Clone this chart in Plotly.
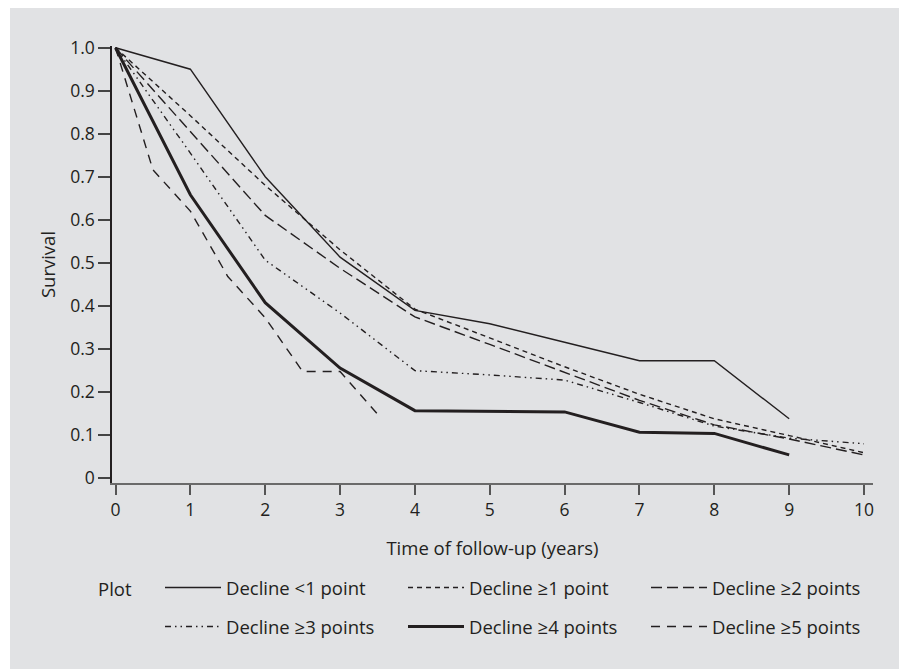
import plotly.graph_objects as go

# ---- data ----
years = [0, 1, 2, 3, 4, 5, 6, 7, 8, 9, 10]
years_half = [0, 0.5, 1, 1.5, 2, 2.5, 3, 3.5]

decline_lt1 = [1.0, 0.95, 0.70, 0.513, 0.389, 0.358, 0.315, 0.272, 0.272, 0.137]
decline_ge1 = [1.0, 0.842, 0.68, 0.53, 0.392, 0.325, 0.258, 0.194, 0.137, 0.098, 0.058]
decline_ge2 = [1.0, 0.805, 0.61, 0.487, 0.374, 0.31, 0.245, 0.18, 0.123, 0.09, 0.053]
decline_ge3 = [1.0, 0.755, 0.506, 0.383, 0.249, 0.239, 0.227, 0.175, 0.12, 0.092, 0.079]
decline_ge4 = [1.0, 0.658, 0.407, 0.255, 0.156, 0.155, 0.153, 0.106, 0.103, 0.053]
decline_ge5 = [1.0, 0.716, 0.62, 0.468, 0.372, 0.247, 0.247, 0.148]

y_ticks = [0, 0.1, 0.2, 0.3, 0.4, 0.5, 0.6, 0.7, 0.8, 0.9, 1.0]
y_tick_labels = ["0", "0.1", "0.2", "0.3", "0.4", "0.5", "0.6", "0.7", "0.8", "0.9", "1.0"]

INK = "#231f20"
BG = "#e1e2e4"
FONT = "Open Sans"
TICK_SIZE = 17.5
TEXT_SIZE = 18.5

series = [
    ("Decline <1 point", years, decline_lt1, 1.4, "solid", "legend"),
    ("Decline \u22651 point", years, decline_ge1, 1.4, "5px,4px", "legend"),
    ("Decline \u22652 points", years, decline_ge2, 1.4, "11px,5px", "legend"),
    ("Decline \u22653 points", years, decline_ge3, 1.4, "6px,4px,1.5px,4px,1.5px,4px", "legend2"),
    ("Decline \u22654 points", years, decline_ge4, 3.0, "solid", "legend2"),
    ("Decline \u22655 points", years_half, decline_ge5, 1.4, "9px,7px", "legend2"),
]

fig = go.Figure()
for name, xs, ys, w, dash, lg in series:
    fig.add_trace(go.Scatter(
        x=xs[:len(ys)], y=ys, mode="lines", name=name,
        line=dict(color=INK, width=w, dash=dash),
        legend=lg, cliponaxis=False,
    ))

# figure is placed 8px in from the page corner by the browser's body margin
W, H = 899, 661
L, R, T, B = 104, 34, 38, 186
plot_w = W - L - R
plot_h = H - T - B

def px_x(fx):
    return (fx - L) / plot_w

def px_y(fy):
    return (H - B - fy) / plot_h

legend_common = dict(
    orientation="h", xanchor="left", yanchor="middle",
    bgcolor="rgba(0,0,0,0)", font=dict(family=FONT, size=TEXT_SIZE, color=INK),
    entrywidth=172, entrywidthmode="pixels", itemwidth=56,
    traceorder="normal",
)

fig.update_layout(
    width=W, height=H,
    margin=dict(l=L, r=R, t=T, b=B, autoexpand=False),
    paper_bgcolor="white",
    plot_bgcolor="rgba(0,0,0,0)",
    font=dict(family=FONT, size=TEXT_SIZE, color=INK),
    showlegend=True,
    legend=dict(x=px_x(152), y=px_y(580), **legend_common),
    legend2=dict(x=px_x(152), y=px_y(619), **legend_common),
    xaxis=dict(
        range=[-0.0468, 10.12], tickmode="array", tickvals=years,
        ticks="outside", ticklen=10, tickwidth=1.5, tickcolor="#555",
        showline=True, linecolor="#6a6a6a", linewidth=2, showgrid=False, zeroline=False,
        tickfont=dict(family=FONT, size=TICK_SIZE, color=INK),
        title=dict(text="Time of follow-up (years)", standoff=22,
                   font=dict(family=FONT, size=TEXT_SIZE, color=INK)),
    ),
    yaxis=dict(
        range=[-0.0123, 1.004], tickmode="array", tickvals=y_ticks, ticktext=y_tick_labels,
        ticks="outside", ticklen=12, tickwidth=1.5, tickcolor="#444",
        showline=True, linecolor=INK, linewidth=1.5, showgrid=False, zeroline=False,
        tickfont=dict(family=FONT, size=TICK_SIZE, color=INK),
        title=dict(text="Survival", standoff=10,
                   font=dict(family=FONT, size=TEXT_SIZE, color=INK)),
    ),
    shapes=[dict(
        type="rect", xref="paper", yref="paper", layer="below",
        x0=px_x(2), x1=px_x(W + 5),
        y0=px_y(H + 5), y1=px_y(0),
        fillcolor=BG, line=dict(width=0),
    )],
    annotations=[dict(
        text="Plot", xref="paper", yref="paper",
        x=px_x(88), y=px_y(580),
        xanchor="left", yanchor="middle", showarrow=False,
        font=dict(family=FONT, size=TEXT_SIZE, color=INK),
    )],
)

fig.write_html("out.html")
